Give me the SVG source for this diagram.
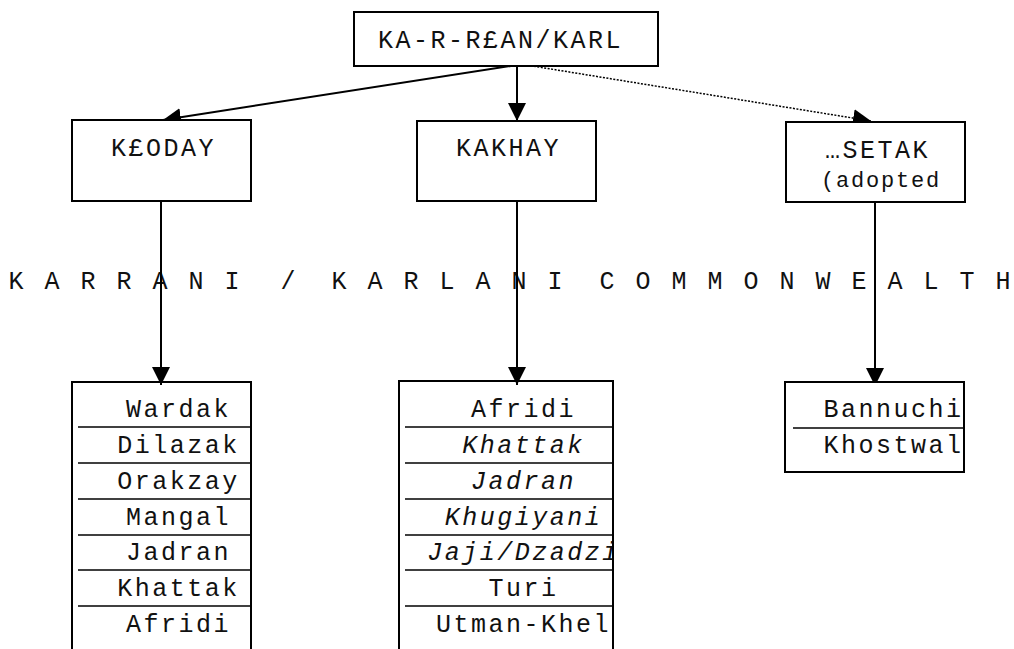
<svg xmlns="http://www.w3.org/2000/svg" width="1014" height="649" viewBox="0 0 1014 649">
<style>
.box{fill:#fff;stroke:#000;stroke-width:2}
.side{fill:none;stroke:#000;stroke-width:2}
.row{stroke:#000;stroke-width:1.5}
.t{font-family:"Liberation Mono",monospace;font-size:25px;letter-spacing:2.5px;fill:#111}
.it{font-style:italic}
.big{font-family:"Liberation Mono",monospace;font-size:25px;fill:#111;text-anchor:middle}
.c{fill:none;stroke:#000;stroke-width:2}
.dot{fill:none;stroke:#000;stroke-width:1.5;stroke-dasharray:2 1.5}
</style>
<defs>
<marker id="ah" markerWidth="18" markerHeight="18" refX="18" refY="9" orient="auto" markerUnits="userSpaceOnUse"><path d="M0,0 L18,9 L0,18 z" fill="#000"/></marker>
<clipPath id="cl1"><rect x="73" y="383" width="177" height="266"/></clipPath>
<clipPath id="cl2"><rect x="400" y="382" width="212" height="267"/></clipPath>
<clipPath id="cl3"><rect x="786" y="383" width="177" height="88"/></clipPath>
</defs>

<g id="label-commonwealth">
<text class="big" x="16 52 88 124 160 196 232" y="289">KARRANI</text>
<text class="big" x="288" y="289">/</text>
<text class="big" x="339 375 411 447 483 519 555" y="289">KARLANI</text>
<text class="big" x="607 643 679 715 751 787 823 859 895 931 967 1003" y="289">COMMONWEALTH</text>
</g>

<g id="connectors">
<line class="c" x1="517" y1="65" x2="163" y2="120" marker-end="url(#ah)"/>
<line class="c" x1="517" y1="65" x2="517" y2="121" marker-end="url(#ah)"/>
<line class="dot" x1="520" y1="64" x2="871" y2="121" marker-end="url(#ah)"/>
<line class="c" x1="161" y1="201" x2="161" y2="385" marker-end="url(#ah)"/>
<line class="c" x1="517" y1="201" x2="517" y2="385" marker-end="url(#ah)"/>
<line class="c" x1="875" y1="202" x2="875" y2="386" marker-end="url(#ah)"/>
</g>

<g id="node-root">
<rect class="box" x="354" y="12" width="304" height="54"/>
<text class="t" x="378" y="48">KA-R-R£AN/KARL</text>
</g>

<g id="node-kloday">
<rect class="box" x="72" y="120" width="179" height="81"/>
<text class="t" x="111" y="156">K£ODAY</text>
</g>

<g id="node-kakhay">
<rect class="box" x="417" y="121" width="179" height="80"/>
<text class="t" x="456" y="156">KAKHAY</text>
</g>

<g id="node-setak">
<rect class="box" x="786" y="122" width="179" height="80"/>
<text class="t" x="825" y="158">…SETAK</text>
<text class="t" style="font-size:22px;letter-spacing:1.8px" x="821" y="187">(adopted</text>
</g>

<g id="list-kloday">
<path class="side" d="M72,649 V382 H251 V649"/>
<line class="row" x1="78" y1="427" x2="250" y2="427"/>
<line class="row" x1="78" y1="463" x2="250" y2="463"/>
<line class="row" x1="78" y1="499" x2="250" y2="499"/>
<line class="row" x1="78" y1="535" x2="250" y2="535"/>
<line class="row" x1="78" y1="570" x2="250" y2="570"/>
<line class="row" x1="78" y1="606" x2="250" y2="606"/>
<g clip-path="url(#cl1)" text-anchor="middle">
<text class="t" x="178.5" y="417">Wardak</text>
<text class="t" x="178.5" y="453">Dilazak</text>
<text class="t" x="178.5" y="489">Orakzay</text>
<text class="t" x="178.5" y="525">Mangal</text>
<text class="t" x="178.5" y="560">Jadran</text>
<text class="t" x="178.5" y="596">Khattak</text>
<text class="t" x="178.5" y="632">Afridi</text>
</g>
</g>

<g id="list-kakhay">
<path class="side" d="M399,649 V381 H613 V649"/>
<line class="row" x1="405" y1="427" x2="612" y2="427"/>
<line class="row" x1="405" y1="463" x2="612" y2="463"/>
<line class="row" x1="405" y1="499" x2="612" y2="499"/>
<line class="row" x1="405" y1="535" x2="612" y2="535"/>
<line class="row" x1="405" y1="570" x2="612" y2="570"/>
<line class="row" x1="405" y1="606" x2="612" y2="606"/>
<g clip-path="url(#cl2)" text-anchor="middle">
<text class="t" x="523.5" y="417">Afridi</text>
<text class="t it" x="523.5" y="453">Khattak</text>
<text class="t it" x="523.5" y="489">Jadran</text>
<text class="t it" x="523.5" y="525">Khugiyani</text>
<text class="t it" x="523.5" y="560">Jaji/Dzadzi</text>
<text class="t" x="523.5" y="596">Turi</text>
<text class="t" x="523.5" y="632">Utman-Khel</text>
</g>
</g>

<g id="list-setak">
<rect class="box" x="785" y="382" width="179" height="90"/>
<line class="row" x1="793" y1="428" x2="963" y2="428"/>
<g clip-path="url(#cl3)" text-anchor="middle">
<text class="t" x="893.5" y="417">Bannuchi</text>
<text class="t" x="893.5" y="453">Khostwal</text>
</g>
</g>
</svg>
